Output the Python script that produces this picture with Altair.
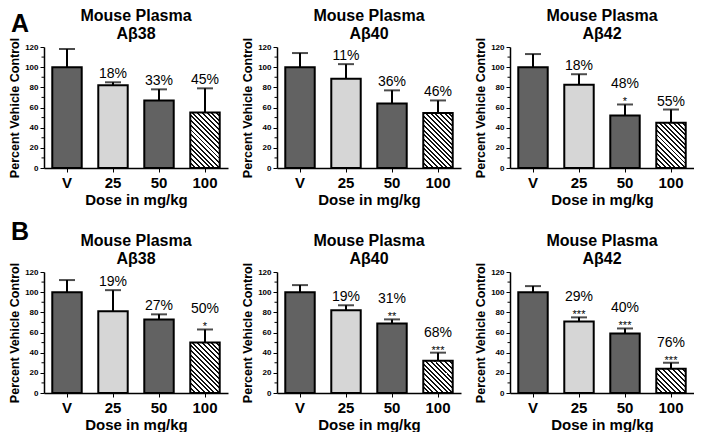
import altair as alt
import pandas as pd

# ---------------- data ----------------
doses = ["V", "25", "50", "100"]

a38_mean = [100, 82, 67, 55]
a38_upper = [118, 85, 78, 79]
a38_pct = ["", "18%", "33%", "45%"]
a38_star = ["", "", "", ""]

a40_mean = [100, 88.5, 64, 54.5]
a40_upper = [114, 103, 77, 67]
a40_pct = ["", "11%", "36%", "46%"]
a40_star = ["", "", "", ""]

a42_mean = [100, 82.5, 52, 45]
a42_upper = [113, 93, 63, 58]
a42_pct = ["", "18%", "48%", "55%"]
a42_star = ["", "", "*", ""]

b38_mean = [100, 81, 73, 50]
b38_upper = [112, 102, 78, 63]
b38_pct = ["", "19%", "27%", "50%"]
b38_star = ["", "", "", "*"]

b40_mean = [100, 82, 69, 32]
b40_upper = [107, 87, 73, 40]
b40_pct = ["", "19%", "31%", "68%"]
b40_star = ["", "", "**", "***"]

b42_mean = [100, 71, 59, 24]
b42_upper = [106, 75, 64, 30]
b42_pct = ["", "29%", "40%", "76%"]
b42_star = ["", "***", "***", "***"]

title_top = "Mouse Plasma"
titles = ["Aβ38", "Aβ40", "Aβ42"]
panel_letters = ["A", "B"]
y_ticks = [0, 20, 40, 60, 80, 100, 120]
minor_ticks = [10, 30, 50, 70, 90, 110]

# ---------------- style ----------------
W, H = 184, 121
PI, PO = 0.36, 0.18
FONT = "Liberation Sans"
DARK = "#626262"
LIGHT = "#d6d6d6"

step = W / (4 - PI + 2 * PO)
BW = step * (1 - PI)


def stripe_gradient(value, w, h_plot):
    h = max(value / 120.0 * h_plot, 1.0)
    s = w * h * (w + h) / (w * w + h * h)
    n = max(1, round((w + h) / 4.8))
    stops = []
    for i in range(n):
        a = i / n
        b = (i + 0.42) / n
        c = (i + 1) / n
        stops += [
            {"offset": a, "color": "#111111"},
            {"offset": b, "color": "#111111"},
            {"offset": b, "color": "#ffffff"},
            {"offset": c, "color": "#ffffff"},
        ]
    return {"gradient": "linear", "x1": 0, "y1": 1, "x2": s / h, "y2": 1 - s / w, "stops": stops}


def panel(title, mean, upper, pct, star, letter=None, letter_y=-35):
    df = pd.DataFrame({"dose": doses, "mean": mean, "upper": upper, "pct": pct, "star": star})
    base = alt.Chart(df)
    x_axis = alt.Axis(title="Dose in mg/kg", labelAngle=0)
    y_axis = alt.Axis(title="Percent Vehicle Control", values=y_ticks)
    yscale = alt.Scale(domain=[0, 120], nice=False)
    x = alt.X("dose:N", sort=doses, scale=alt.Scale(paddingInner=PI, paddingOuter=PO), axis=x_axis)
    y = alt.Y("mean:Q", scale=yscale, axis=y_axis)
    yu = alt.Y("upper:Q", scale=yscale, axis=y_axis)

    bars = base.transform_filter("datum.dose != '100'").mark_bar(
        stroke="black", strokeWidth=2
    ).encode(
        x=x, y=y,
        fill=alt.Fill("dose:N", scale=alt.Scale(domain=doses[:3], range=[DARK, LIGHT, DARK]), legend=None),
    )
    stripe = base.transform_filter("datum.dose == '100'").mark_bar(
        stroke="black", strokeWidth=2, fill=stripe_gradient(mean[3], BW, H)
    ).encode(x=x, y=y)
    stem = base.mark_rule(color="black", strokeWidth=2).encode(x=x, y=y, y2="upper:Q")
    cap = base.mark_tick(color="black", thickness=2, size=16).encode(x=x, y=yu)
    pct_plain = base.transform_filter("datum.pct != '' && datum.star == ''").mark_text(
        baseline="alphabetic", dy=-4, fontSize=14, font=FONT, color="black"
    ).encode(x=x, y=yu, text="pct:N")
    pct_star = base.transform_filter("datum.pct != '' && datum.star != ''").mark_text(
        baseline="alphabetic", dy=-16, fontSize=14, font=FONT, color="black"
    ).encode(x=x, y=yu, text="pct:N")
    stars = base.transform_filter("datum.star != ''").mark_text(
        baseline="alphabetic", dy=1, fontSize=11, font=FONT, color="black"
    ).encode(x=x, y=yu, text="star:N")
    minor = alt.Chart(pd.DataFrame({"v": minor_ticks})).mark_rule(color="black", strokeWidth=1).encode(
        y=alt.Y("v:Q", scale=yscale, axis=y_axis), x=alt.value(-2.5), x2=alt.value(0)
    )
    tdf = pd.DataFrame({"l1": [title_top], "l2": [title]})
    t1 = alt.Chart(tdf).mark_text(
        fontSize=16, fontWeight="bold", font=FONT, baseline="middle", align="center", color="black"
    ).encode(x=alt.value(W / 2), y=alt.value(-31), text="l1:N")
    t2 = alt.Chart(tdf).mark_text(
        fontSize=16, fontWeight="bold", font=FONT, baseline="middle", align="center", color="black"
    ).encode(x=alt.value(W / 2), y=alt.value(-13), text="l2:N")
    layers = [bars, stripe, stem, cap, pct_plain, pct_star, stars, minor, t1, t2]
    if letter is not None:
        lt = alt.Chart(pd.DataFrame({"letter": [letter]})).mark_text(
            fontSize=25, fontWeight="bold", font=FONT, align="left", baseline="top", color="black"
        ).encode(x=alt.value(-33), y=alt.value(letter_y), text="letter:N")
        layers.append(lt)
    return alt.layer(*layers).properties(width=W, height=H)


rowA = alt.hconcat(
    panel(titles[0], a38_mean, a38_upper, a38_pct, a38_star, panel_letters[0], -35),
    panel(titles[1], a40_mean, a40_upper, a40_pct, a40_star),
    panel(titles[2], a42_mean, a42_upper, a42_pct, a42_star),
    spacing=13,
)
rowB = alt.hconcat(
    panel(titles[0], b38_mean, b38_upper, b38_pct, b38_star, panel_letters[1], -52),
    panel(titles[1], b40_mean, b40_upper, b40_pct, b40_star),
    panel(titles[2], b42_mean, b42_upper, b42_pct, b42_star),
    spacing=13,
)

chart = alt.vconcat(rowA, rowB, spacing=13).properties(
    padding=0
).configure_view(stroke=None).configure_axis(
    grid=False, domainColor="black", tickColor="black", labelColor="black", titleColor="black",
    labelFont=FONT, titleFont=FONT, labelFontWeight="bold", titleFontWeight="bold",
).configure_axisX(
    labelFontSize=15, titleFontSize=15, tickSize=4, domainWidth=1.5, labelPadding=3, titlePadding=2,
).configure_axisY(
    labelFontSize=8, titleFontSize=12.5, tickSize=4, domainWidth=1.5, labelPadding=2, titlePadding=3,
)

chart.save("out.html", embed_options={"renderer": "svg", "actions": False})
